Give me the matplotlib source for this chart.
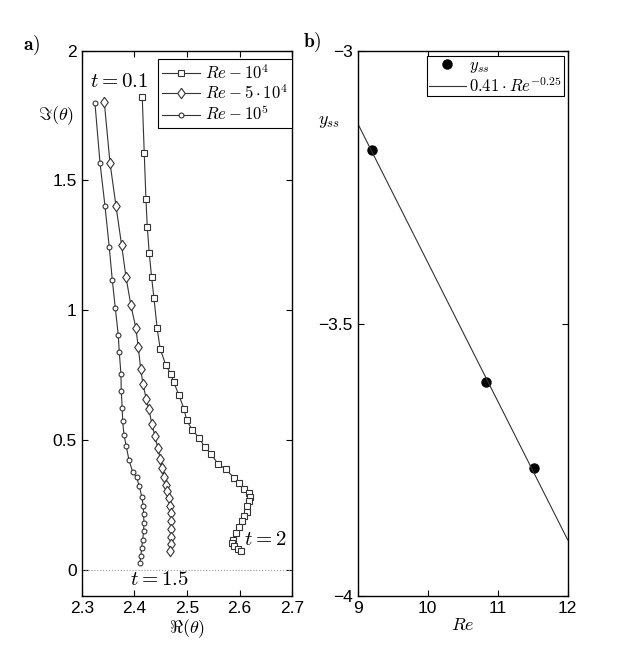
import numpy as np
import matplotlib
matplotlib.use('Agg')
import matplotlib.pyplot as plt

plt.rcParams['mathtext.fontset'] = 'cm'
plt.rcParams['font.family'] = ['Liberation Sans', 'DejaVu Sans']

# --- panel a) : trajectories in the complex plane ---
re1e4_x = [2.4150, 2.4188, 2.4220, 2.4245, 2.4283, 2.4328, 2.4372, 2.4433, 2.4491, 2.4600,
           2.4691, 2.4748, 2.4848, 2.4945, 2.4992, 2.5099, 2.5235, 2.5340, 2.5450, 2.5592,
           2.5732, 2.5890, 2.5985, 2.6085, 2.6180, 2.6194, 2.6184, 2.6146, 2.6133, 2.6085,
           2.6038, 2.5990, 2.5934, 2.5877, 2.5862, 2.5899, 2.5960, 2.6017]
re1e4_y = [1.8206, 1.6051, 1.4292, 1.3226, 1.2202, 1.1263, 1.0473, 0.9307, 0.8507, 0.7875,
           0.7548, 0.7232, 0.6717, 0.6186, 0.5758, 0.5400, 0.5062, 0.4719, 0.4476, 0.4072,
           0.3880, 0.3553, 0.3329, 0.3122, 0.2975, 0.2821, 0.2667, 0.2448, 0.2244, 0.2063,
           0.1878, 0.1647, 0.1397, 0.1147, 0.1012, 0.0905, 0.0812, 0.0704]

re5e4_x = [2.3429, 2.3537, 2.3651, 2.3759, 2.3841, 2.3935, 2.4030, 2.4074, 2.4120, 2.4163,
           2.4226, 2.4271, 2.4334, 2.4391, 2.4448, 2.4491, 2.4529, 2.4562, 2.4600, 2.4628,
           2.4657, 2.4681, 2.4695, 2.4700, 2.4695, 2.4695, 2.4695, 2.4676]
re5e4_y = [1.8014, 1.5689, 1.4022, 1.2494, 1.1278, 1.0185, 0.9299, 0.8583, 0.7748, 0.7159,
           0.6582, 0.6209, 0.5620, 0.5142, 0.4681, 0.4284, 0.3926, 0.3591, 0.3283, 0.3052,
           0.2764, 0.2475, 0.2186, 0.1871, 0.1551, 0.1243, 0.0974, 0.0704]

re1e5_x = [2.3252, 2.3347, 2.3442, 2.3524, 2.3581, 2.3638, 2.3694, 2.3713, 2.3746, 2.3751,
           2.3770, 2.3778, 2.3803, 2.3846, 2.3898, 2.3968, 2.4044, 2.4093, 2.4144, 2.4169,
           2.4176, 2.4182, 2.4176, 2.4157, 2.4138, 2.4125, 2.4106]
re1e5_y = [1.7975, 1.5689, 1.4022, 1.2417, 1.1162, 1.0085, 0.9057, 0.8403, 0.7529, 0.6890,
           0.6220, 0.5720, 0.5196, 0.4757, 0.4226, 0.3772, 0.3564, 0.3218, 0.2794, 0.2448,
           0.2129, 0.1809, 0.1486, 0.1139, 0.0847, 0.0539, 0.0269]

labels_a = [r'$Re-10^4$', r'$Re-5\cdot10^4$', r'$Re-10^5$']

# --- panel b) : steady state vs Re ---
re_pts = [9.2, 10.83, 11.52]
yss_pts = [-3.182, -3.607, -3.765]
re_fit = [9.0, 12.0]
yss_fit = [-3.133, -3.897]

W, H = 627, 671
fig = plt.figure(figsize=(W / 100, H / 100), dpi=100)
ax1 = fig.add_axes([81.7 / W, 1 - 595.7 / H, 210.6 / W, 545 / H])
ax2 = fig.add_axes([357.7 / W, 1 - 596 / H, 210 / W, 545 / H])

# rhombus a bit taller than wide, like the MATLAB diamond
rhombus = [(0, 1), (0.72, 0), (0, -1), (-0.72, 0), (0, 1)]

lc = '#333333'
ax1.plot(re1e4_x, re1e4_y, '-s', color=lc, lw=0.8, ms=5, mfc='white', mec=lc, mew=0.8,
         label=labels_a[0])
ax1.plot(re5e4_x, re5e4_y, '-', marker=rhombus, color=lc, lw=0.8, ms=7.5, mfc='white',
         mec=lc, mew=0.8, label=labels_a[1])
ax1.plot(re1e5_x, re1e5_y, '-o', color=lc, lw=0.8, ms=3.5, mfc='white', mec=lc, mew=0.8,
         label=labels_a[2])
ax1.axhline(0, color='#999999', lw=0.8, ls=':')

ax1.set_xlim(2.3, 2.7)
ax1.set_ylim(-0.1, 2)
ax1.set_xticks([2.3, 2.4, 2.5, 2.6, 2.7])
ax1.set_xticklabels(['2.3', '2.4', '2.5', '2.6', '2.7'])
ax1.set_yticks([0, 0.5, 1, 1.5, 2])
ax1.set_yticklabels(['0', '0.5', '1', '1.5', '2'])
ax1.set_xlabel(r'$\Re(\theta)$', fontsize=13, labelpad=1)
ax1.set_ylabel(r'$\Im(\theta)$', fontsize=13, rotation=0)
ax1.yaxis.set_label_coords(-0.122, 0.86)

ax1.text(2.315, 1.88, r'$t=0.1$', fontsize=15, va='center', ha='left')
ax1.text(2.608, 0.117, r'$t=2$', fontsize=15, va='center', ha='left')
ax1.text(2.392, -0.037, r'$t=1.5$', fontsize=15, va='center', ha='left')

leg1 = ax1.legend(loc='upper right', bbox_to_anchor=(1.0, 0.985), borderaxespad=0,
                  fontsize=12, fancybox=False, edgecolor='black', framealpha=1,
                  handlelength=2.3, handletextpad=0.3, labelspacing=0.1, borderpad=0.25)
leg1.get_frame().set_linewidth(0.8)

ax2.plot(re_pts, yss_pts, 'o', color='black', ms=6.5, label=r'$y_{ss}$')
ax2.plot(re_fit, yss_fit, '-', color='#333333', lw=0.8, label=r'$0.41\cdot Re^{-0.25}$')
ax2.set_xlim(9, 12)
ax2.set_ylim(-4, -3)
ax2.set_xticks([9, 10, 11, 12])
ax2.set_yticks([-4, -3.5, -3])
ax2.set_yticklabels(['\u22124', '\u22123.5', '\u22123'])
ax2.set_xlabel(r'$Re$', fontsize=13, labelpad=1)
ax2.set_ylabel(r'$y_{ss}$', fontsize=13, rotation=0)
ax2.yaxis.set_label_coords(-0.137, 0.855)

leg2 = ax2.legend(loc='upper right', bbox_to_anchor=(0.98, 0.99), borderaxespad=0,
                  fontsize=12, fancybox=False, edgecolor='black', framealpha=1,
                  handlelength=2.2, handletextpad=0.2, labelspacing=0.0, borderpad=0.1)
leg2.get_frame().set_linewidth(0.8)

for ax in (ax1, ax2):
    ax.tick_params(direction='in', top=True, right=True, labelsize=12.5, length=4, width=0.8)
    for s in ax.spines.values():
        s.set_linewidth(1.0)

fig.text(23 / W, 1 - 45 / H, r'$\mathbf{a)}$', fontsize=14, va='center', ha='left')
fig.text(303 / W, 1 - 42 / H, r'$\mathbf{b)}$', fontsize=14, va='center', ha='left')

fig.savefig('out.png', dpi=100)
